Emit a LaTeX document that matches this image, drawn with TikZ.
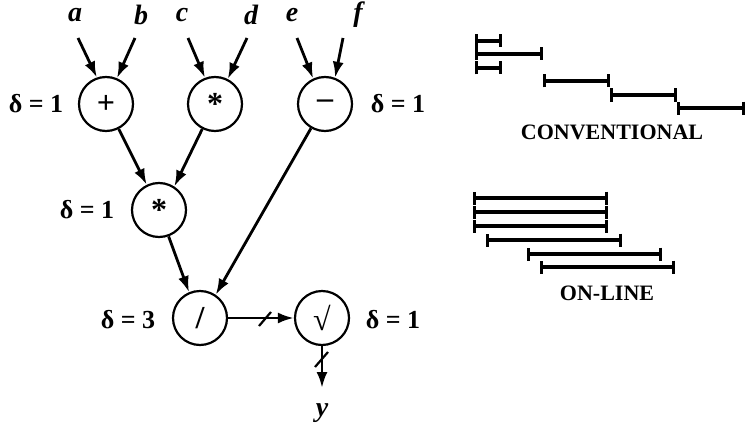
\documentclass[tikz,border=0pt]{standalone}
\usepackage{fontspec}
\setmainfont{Liberation Serif}
\usetikzlibrary{arrows.meta}

\begin{document}
\begin{tikzpicture}[x=0.5pt,y=-0.5pt,
  op/.style={circle,draw,line width=1.1pt,minimum size=27pt,inner sep=0pt,
    font=\fontsize{16}{18}\selectfont\bfseries},
  lbl/.style={font=\fontsize{13}{15}\selectfont\bfseries},
  inp/.style={font=\fontsize{14}{16}\selectfont\bfseries\itshape},
  edge/.style={line width=1.4pt,-{Latex[length=8pt,width=5.5pt]}},
  tick/.style={line width=1.1pt},
  bar/.style={line width=1.6pt,{Bar[width=6.5pt]}-{Bar[width=6.5pt]}},
  title/.style={font=\fontsize{11}{13}\selectfont\bfseries}]
\useasboundingbox (0,0) rectangle (753,433);

% operators
\node[op] (add) at (106,104) {+};
\node[op] (mul) at (215,104) {\raisebox{-0.4ex}{*}};
\node[op] (sub) at (325,104) {\textendash};
\node[op] (mulb) at (159,210) {\raisebox{-0.4ex}{*}};
\node[op] (dv) at (200,318) {/};
\node[op] (root) at (322,318) {√};

\node[lbl] (dadd) at (36,104) {δ = 1};
\node[lbl] (dsub) at (398,104) {δ = 1};
\node[lbl] (dmulb) at (87,210) {δ = 1};
\node[lbl] (ddv) at (128,320) {δ = 3};
\node[lbl] (droot) at (393,320) {δ = 1};

% inputs
\foreach \n/\x/\t in {a/75/78,b/141/135,c/182/188,d/251/247,e/292/297,f/358/343}{
  \node[inp] (\n) at (\x,15) {\n};
  \coordinate (\n0) at (\t,38);
}
\draw[edge] (a0) -- (add.109);
\draw[edge] (b0) -- (add.67);
\draw[edge] (c0) -- (mul.111);
\draw[edge] (d0) -- (mul.63);
\draw[edge] (e0) -- (sub.115);
\draw[edge] (f0) -- (sub.69);

\draw[edge] (add.-63) -- (mulb.116);
\draw[edge] (mul.-117) -- (mulb.57);
\draw[edge] (sub.-120) -- (dv.56);
\draw[edge] (mulb.-70) -- (dv.113);
\draw[edge] (dv) -- (root);
\draw[tick] (259,326) -- (271,312);

\node[inp] (y) at (322,413) {y};
\coordinate (y0) at (322,388);
\draw[edge] (root) -- (y0);
\draw[tick] (315,367) -- (328,352);

% timing bars
\foreach \xa/\xb/\yy in {475/502/41,475/543/54,475/502/68,543/610/81,610/677/95,677/745/108}
  \draw[bar] (\xa,\yy) -- (\xb,\yy);
\node[title] (conv) at (612,132) {CONVENTIONAL};

\foreach \xa/\xb/\yy in {473/608/198,473/608/212,473/608/226,486/622/240,527/662/254,540/675/267}
  \draw[bar] (\xa,\yy) -- (\xb,\yy);
\node[title] (onl) at (607,293) {ON-LINE};
\end{tikzpicture}
\end{document}
